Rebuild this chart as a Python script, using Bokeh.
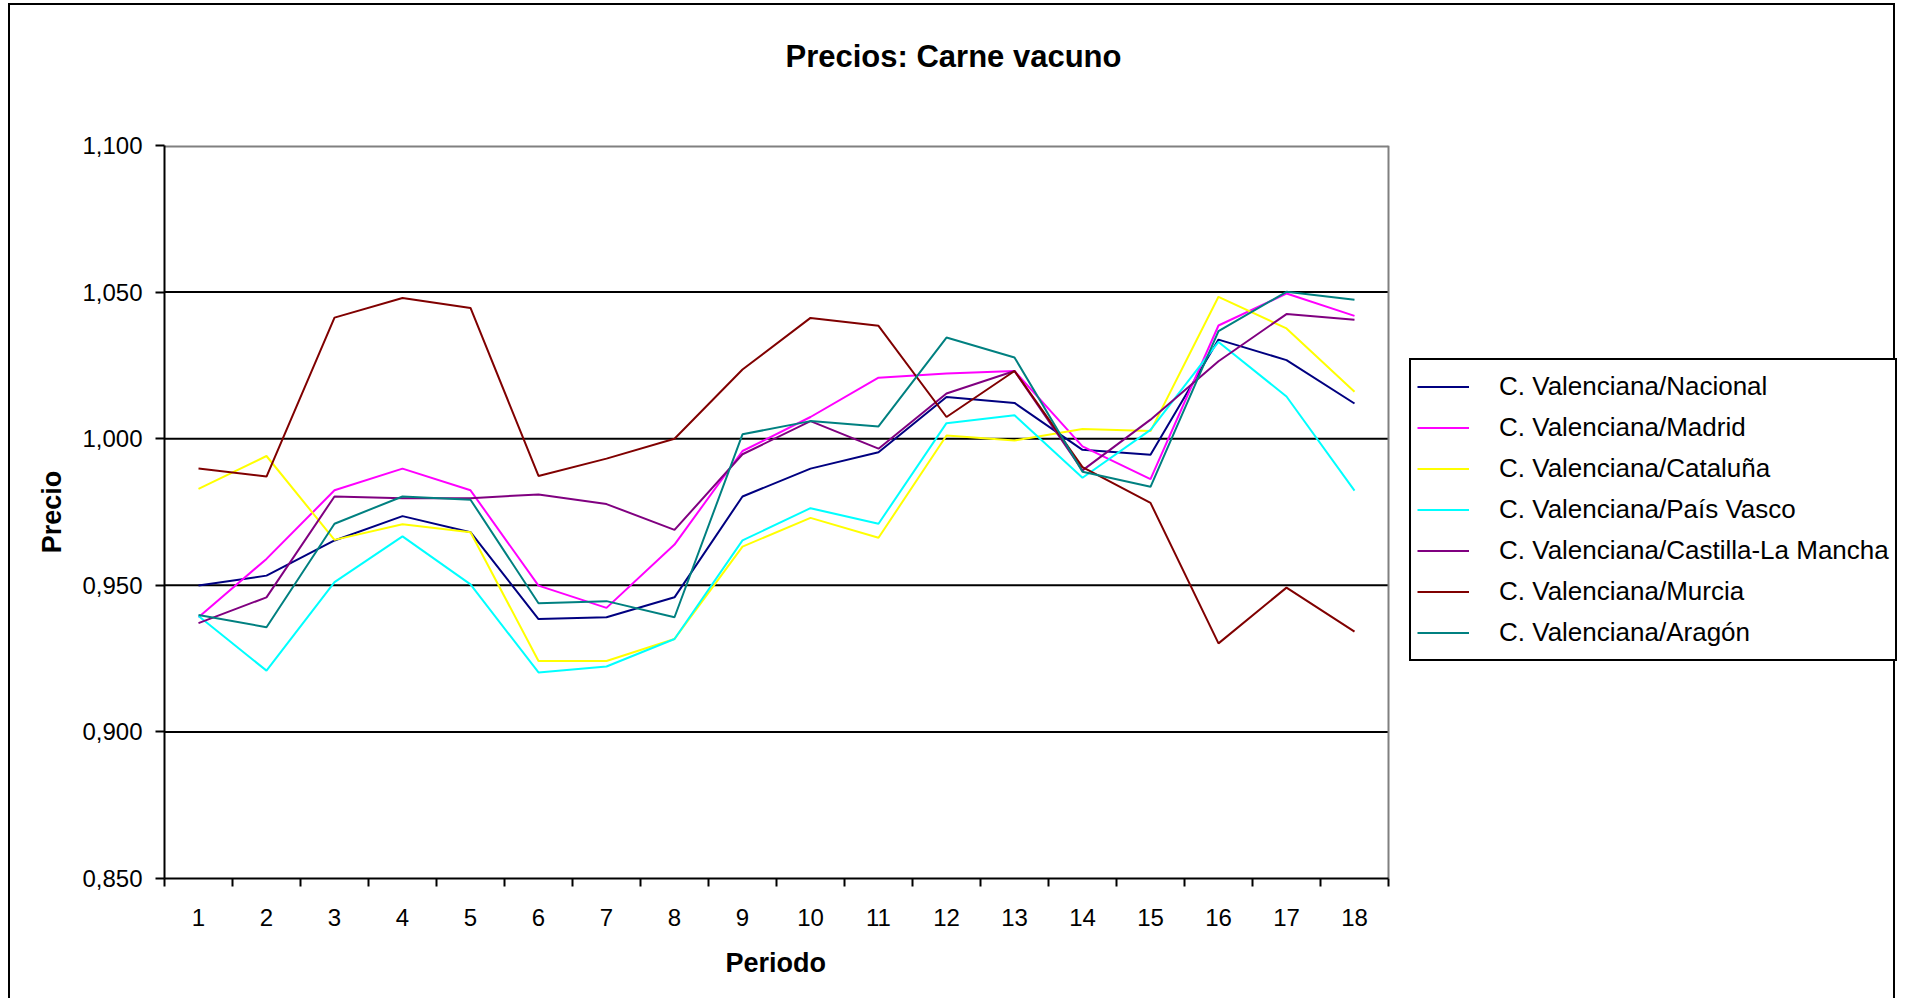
from bokeh.plotting import figure
from bokeh.models import FixedTicker, Legend, LegendItem, Title
from bokeh.embed import file_html
from bokeh.resources import INLINE

# ---- data ----
periods = [1, 2, 3, 4, 5, 6, 7, 8, 9, 10, 11, 12, 13, 14, 15, 16, 17, 18]
y_ticks = [0.85, 0.90, 0.95, 1.00, 1.05, 1.10]
y_tick_labels = ["0,850", "0,900", "0,950", "1,000", "1,050", "1,100"]

names = [
    "C. Valenciana/Nacional",
    "C. Valenciana/Madrid",
    "C. Valenciana/Cataluña",
    "C. Valenciana/País Vasco",
    "C. Valenciana/Castilla-La Mancha",
    "C. Valenciana/Murcia",
    "C. Valenciana/Aragón",
]
colors = ["#000080", "#FF00FF", "#FFFF00", "#00FFFF", "#800080", "#800000", "#008080"]

nacional = [0.9499, 0.9533, 0.9653, 0.9736, 0.9681, 0.9385, 0.9391, 0.9459, 0.9803,
            0.9898, 0.9954, 1.0142, 1.0122, 0.9962, 0.9945, 1.0338, 1.0268, 1.0120]
madrid = [0.9391, 0.9590, 0.9824, 0.9898, 0.9824, 0.9499, 0.9423, 0.9639, 0.9958,
          1.0074, 1.0208, 1.0222, 1.0231, 0.9974, 0.9862, 1.0386, 1.0495, 1.0419]
cataluna = [0.9829, 0.9941, 0.9655, 0.9708, 0.9681, 0.9242, 0.9242, 0.9317, 0.9632,
            0.9730, 0.9662, 1.0011, 0.9994, 1.0033, 1.0026, 1.0484, 1.0376, 1.0160]
pais_vasco = [0.9395, 0.9209, 0.9511, 0.9667, 0.9503, 0.9203, 0.9223, 0.9317, 0.9653,
              0.9763, 0.9710, 1.0053, 1.0080, 0.9867, 1.0030, 1.0330, 1.0144, 0.9823]
castilla = [0.9371, 0.9459, 0.9803, 0.9797, 0.9797, 0.9810, 0.9777, 0.9689, 0.9947,
            1.0060, 0.9966, 1.0154, 1.0231, 0.9892, 1.0065, 1.0264, 1.0425, 1.0406]
murcia = [0.9898, 0.9871, 1.0413, 1.0480, 1.0446, 0.9873, 0.9932, 1.0000, 1.0236,
          1.0412, 1.0385, 1.0074, 1.0231, 0.9903, 0.9781, 0.9302, 0.9492, 0.9342]
aragon = [0.9399, 0.9357, 0.9710, 0.9803, 0.9792, 0.9439, 0.9446, 0.9391, 1.0015,
          1.0060, 1.0042, 1.0345, 1.0277, 0.9887, 0.9836, 1.0367, 1.0501, 1.0474]

series = [nacional, madrid, cataluna, pais_vasco, castilla, murcia, aragon]

FONT = "Liberation Sans"

# ---- layout (pixels) ----
W, H = 1887, 995
LEFT, TOP, BOTTOM = 154, 140, 122
PLOT_W = 1224                      # width of the plot area (periods)
FRAME_W = W - LEFT                 # frame extends to the right edge (legend lives there)

x_start = periods[0] - 0.5
x_plot_end = periods[-1] + 0.5
x_end = x_start + (x_plot_end - x_start) * FRAME_W / PLOT_W

p = figure(
    width=W, height=H,
    output_backend="svg", toolbar_location=None,
    x_range=(x_start, x_end),
    y_range=(y_ticks[0], y_ticks[-1]),
    min_border_left=LEFT, min_border_right=0,
    min_border_top=TOP, min_border_bottom=BOTTOM,
    title=None,
    background_fill_color="white", border_fill_color="white",
)
p.styles = {"border-top": "2px solid black", "border-left": "2px solid black",
            "border-right": "2px solid black",
            "margin-left": "8px", "margin-top": "3px"}
p.outline_line_color = None

# a blank spacer next to the plot, then the title above it
spacer = Title(text=" ", text_font=FONT, text_font_size="30px", standoff=37,
               text_color="white")
p.add_layout(spacer, "above")
main_title = Title(text="Precios: Carne vacuno", text_font=FONT,
                   text_font_style="bold", text_font_size="31px",
                   text_color="black", align="left", offset=621, standoff=0)
p.add_layout(main_title, "above")

# x axis
xa = p.xaxis[0]
xa.bounds = (x_start, x_plot_end)
xa.ticker = FixedTicker(ticks=periods,
                        minor_ticks=[v - 0.5 for v in periods] + [x_plot_end])
xa.major_tick_out = 0
xa.major_tick_in = 0
xa.minor_tick_out = 8
xa.minor_tick_in = 0
xa.minor_tick_line_width = 2
xa.minor_tick_line_color = "black"
xa.axis_line_color = "black"
xa.axis_line_width = 2
xa.major_label_text_font = FONT
xa.major_label_text_font_size = "24px"
xa.major_label_text_color = "black"
xa.major_label_standoff = 22

# x axis title, centred under the plot area
x_title = Title(text="Periodo", text_font=FONT, text_font_style="bold",
                text_font_size="27px", text_color="black",
                align="left", offset=561, standoff=35)
p.add_layout(x_title, "below")

# y axis
ya = p.yaxis[0]
ya.ticker = FixedTicker(ticks=y_ticks)
ya.major_label_overrides = {t: lab for t, lab in zip(y_ticks, y_tick_labels)}
ya.major_tick_out = 9
ya.major_tick_in = 0
ya.major_tick_line_width = 2
ya.major_tick_line_color = "black"
ya.minor_tick_out = 0
ya.minor_tick_in = 0
ya.axis_line_color = "black"
ya.axis_line_width = 2
ya.major_label_text_font = FONT
ya.major_label_text_font_size = "24px"
ya.major_label_text_color = "black"
ya.major_label_standoff = 13
ya.axis_label = "Precio"
ya.axis_label_text_font = FONT
ya.axis_label_text_font_style = "bold"
ya.axis_label_text_font_size = "27px"
ya.axis_label_text_color = "black"
ya.axis_label_standoff = 12

# grid lines and plot-area border, limited to the plot area
p.xgrid.visible = False
p.ygrid.visible = False
grid_y = y_ticks[1:-1]
p.segment(x0=[x_start] * len(grid_y), x1=[x_plot_end] * len(grid_y),
          y0=grid_y, y1=grid_y, line_color="black", line_width=2)
# top border (half clipped by the frame edge) and right border
p.segment(x0=[x_start], x1=[x_plot_end], y0=[y_ticks[-1]], y1=[y_ticks[-1]],
          line_color="#808080", line_width=4)
p.segment(x0=[x_plot_end], x1=[x_plot_end], y0=[y_ticks[0]], y1=[y_ticks[-1]],
          line_color="#808080", line_width=2)

items = []
for name, col, vals in zip(names, colors, series):
    r = p.line(periods, vals, line_color=col, line_width=2)
    items.append(LegendItem(label=name, renderers=[r]))

legend = Legend(
    items=items, location=(1245, 217), margin=0, padding=6, spacing=0,
    label_height=41, glyph_height=41, glyph_width=52, label_standoff=30,
    label_text_font=FONT, label_text_font_size="26px", label_text_color="black",
    border_line_color="black", border_line_width=2, border_line_alpha=1,
    background_fill_color="white", background_fill_alpha=1,
)
p.add_layout(legend)

open("out.html", "w").write(file_html(p, INLINE))
